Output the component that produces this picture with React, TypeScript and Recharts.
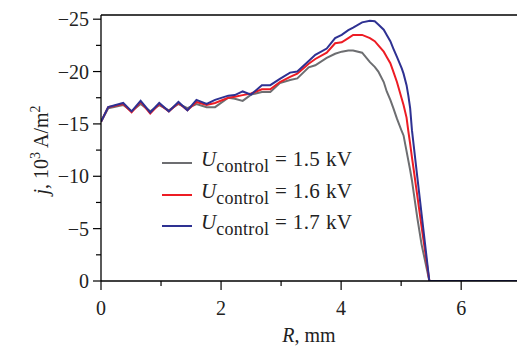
import React from 'react';
import { LineChart, Line, XAxis, YAxis, ReferenceLine } from 'recharts';

const R = [0, 0.12, 0.37, 0.51, 0.66, 0.82, 0.97, 1.13, 1.29, 1.44, 1.59, 1.76, 1.9, 2.12, 2.23, 2.36, 2.5, 2.68, 2.82, 2.98, 3.15, 3.27, 3.46, 3.57, 3.76, 3.9, 4.01, 4.12, 4.2, 4.35, 4.48, 4.56, 4.62, 4.71, 4.76, 4.82, 4.87, 4.93, 5.01, 5.04, 5.09, 5.12, 5.15, 5.18, 5.21, 5.27, 5.34, 5.47, 6.0, 6.93];

const J_1_7 = [-15.2, -16.6, -17.0, -16.2, -17.2, -16.1, -17.0, -16.2, -17.1, -16.3, -17.3, -16.9, -17.3, -17.7, -17.75, -18.1, -17.8, -18.7, -18.7, -19.3, -19.9, -20.0, -21.0, -21.6, -22.2, -23.2, -23.5, -23.95, -24.2, -24.7, -24.85, -24.8, -24.5, -24.0, -23.5, -22.9, -22.2, -21.4, -20.3, -19.8, -18.7, -17.7, -16.5, -14.4, -12.9, -9.9, -6.4, 0, 0, 0];

const J_1_6 = [-15.2, -16.6, -16.9, -16.1, -17.1, -16.0, -16.9, -16.2, -17.0, -16.3, -17.1, -16.8, -17.0, -17.5, -17.6, -17.75, -17.9, -18.3, -18.3, -19.0, -19.5, -19.8, -20.75, -21.2, -21.8, -22.7, -22.8, -23.2, -23.5, -23.5, -23.2, -22.9, -22.5, -21.9, -21.4, -20.8, -20.0, -19.0, -17.4, -16.8, -15.6, -14.3, -13.1, -11.8, -10.6, -8.1, -5.2, 0, 0, 0];

const J_1_5 = [-15.2, -16.5, -16.8, -16.2, -16.9, -16.2, -16.8, -16.3, -16.9, -16.5, -16.9, -16.6, -16.6, -17.5, -17.4, -17.2, -17.8, -18.05, -18.05, -18.9, -19.2, -19.35, -20.4, -20.6, -21.3, -21.7, -21.9, -22.0, -22.0, -21.8, -20.9, -20.45, -20.0, -19.0, -18.1, -17.3, -16.5, -15.5, -14.3, -13.9, -12.4, -11.5, -10.6, -9.6, -8.4, -6.0, -3.5, 0, 0, 0];

const VOLTAGES = ['1.5', '1.6', '1.7'];
const COLORS = ['#6d6e71', '#ed1c24', '#2e3192'];
const SERIES_KEYS = ['u15', 'u16', 'u17'];

const Y_TICKS = [-25, -22.5, -20, -17.5, -15, -12.5, -10, -7.5, -5, -2.5, 0];
const X_TICKS = [0, 1, 2, 3, 4, 5, 6];
const Y_DOMAIN: [number, number] = [-25.4, 0];
const X_DOMAIN: [number, number] = [0, 6.93];

const data = R.map((r, i) => ({ r, u15: J_1_5[i], u16: J_1_6[i], u17: J_1_7[i] }));

const FONT = '"Liberation Serif", "Times New Roman", serif';

const fmt = (v: number) => (v < 0 ? '\u2212' + Math.abs(v) : String(v));

const YTick = (props: any) => {
  const { x, y, payload } = props;
  const major = Math.abs(payload.value % 5) < 1e-9;
  return (
    <g>
      <line x1={x - (major ? 8 : 5)} x2={x} y1={y} y2={y} stroke="#000" strokeWidth={1.2} />
      {major && (
        <text x={x - 12} y={y + 7} textAnchor="end" fontFamily={FONT} fontSize={20} fill="#222">
          {fmt(payload.value)}
        </text>
      )}
    </g>
  );
};

const XTick = (props: any) => {
  const { x, y, payload } = props;
  const major = payload.value % 2 === 0;
  return (
    <g>
      <line x1={x} x2={x} y1={y} y2={y + (major ? 9 : 5)} stroke="#000" strokeWidth={1.2} />
      {major && (
        <text x={x} y={y + 34} textAnchor="middle" fontFamily={FONT} fontSize={20} fill="#222">
          {fmt(payload.value)}
        </text>
      )}
    </g>
  );
};

const YLabel = (props: any) => {
  const vb = props.viewBox || {};
  const cx = vb.x + 48;
  const cy = vb.y + vb.height / 2 + 2;
  return (
    <text
      x={cx}
      y={cy}
      transform={`rotate(-90, ${cx}, ${cy})`}
      textAnchor="middle"
      fontFamily={FONT}
      fontSize={20}
      fill="#222"
    >
      <tspan fontStyle="italic">j</tspan>
      <tspan>, 10</tspan>
      <tspan fontSize={14} dy={-8}>3</tspan>
      <tspan dy={8}> A/m</tspan>
      <tspan fontSize={14} dy={-8}>2</tspan>
    </text>
  );
};

const XLabel = (props: any) => {
  const vb = props.viewBox || {};
  const cx = vb.x + vb.width / 2;
  const cy = vb.y + 61;
  return (
    <text x={cx} y={cy} textAnchor="middle" fontFamily={FONT} fontSize={20} fill="#222">
      <tspan fontStyle="italic">R</tspan>
      <tspan>, mm</tspan>
    </text>
  );
};

const LegendBox = () => (
  <div
    style={{
      position: 'absolute',
      left: 162,
      top: 149,
      fontFamily: FONT,
      fontSize: 21,
      color: '#222',
      lineHeight: 1,
    }}
  >
    {VOLTAGES.map((v, i) => (
      <div key={v} style={{ display: 'flex', alignItems: 'flex-start', height: 31.5 }}>
        <div style={{ width: 30, height: 2, background: COLORS[i], marginTop: 13, marginRight: 9 }} />
        <div style={{ whiteSpace: 'nowrap' }}>
          <span style={{ fontStyle: 'italic' }}>U</span>
          <span style={{ fontSize: 18, position: 'relative', top: 6, letterSpacing: 0.3 }}>control</span>
          <span style={{ letterSpacing: 0.4 }}> = {v} kV</span>
        </div>
      </div>
    ))}
  </div>
);

export default function App() {
  return (
    <div style={{ position: 'absolute', left: 0, top: 0, width: 517, height: 348, background: '#fff' }}>
      <LineChart width={517} height={348} data={data} margin={{ top: 15, right: 0, bottom: 0, left: 0 }}>
        <XAxis
          dataKey="r"
          type="number"
          domain={X_DOMAIN}
          ticks={X_TICKS}
          allowDataOverflow
          height={67}
          tickSize={0}
          tickMargin={0}
          tickLine={false}
          tick={<XTick />}
          stroke="#000"
          strokeWidth={1.3}
          label={<XLabel />}
          interval={0}
        />
        <YAxis
          type="number"
          reversed
          domain={Y_DOMAIN}
          ticks={Y_TICKS}
          allowDataOverflow
          width={101}
          tickSize={0}
          tickMargin={0}
          tickLine={false}
          tick={<YTick />}
          stroke="#000"
          strokeWidth={1.3}
          label={<YLabel />}
          interval={0}
        />
        <ReferenceLine y={Y_DOMAIN[0]} stroke="#000" strokeWidth={1.5} ifOverflow="extendDomain" />
        {SERIES_KEYS.map((k, i) => (
          <Line
            key={k}
            dataKey={k}
            type="linear"
            stroke={COLORS[i]}
            strokeWidth={2}
            dot={false}
            isAnimationActive={false}
          />
        ))}
      </LineChart>
      <LegendBox />
    </div>
  );
}
